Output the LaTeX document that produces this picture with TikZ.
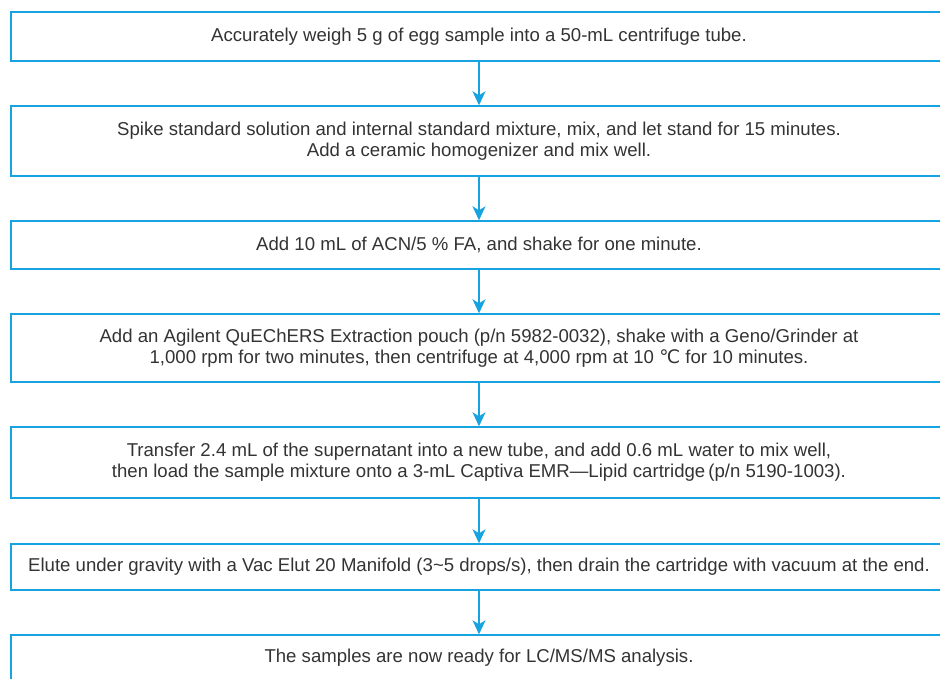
\documentclass[tikz,border=0pt]{standalone}
\usepackage{fontspec}
\setmainfont{Liberation Sans}
\newfontfamily\symfont{DejaVu Sans}
\usetikzlibrary{arrows.meta}
\definecolor{flowblue}{RGB}{22,163,223}
\definecolor{flowtext}{RGB}{51,51,51}
\begin{document}
\begin{tikzpicture}[x=1pt,y=-1pt,
  stepbox/.style={draw=flowblue, line width=1.4pt, minimum width=936pt,
    inner sep=0pt, text=flowtext, align=center,
    font=\fontsize{18.6}{21}\selectfont},
  flowarrow/.style={draw=flowblue, line width=1.4pt,
    -{Stealth[length=14pt,width=13pt,inset=4pt]}}]
\useasboundingbox (0,0) rectangle (940,679);
\clip (0,0) rectangle (940,679);
\node[stepbox, minimum height=49pt] (s1) at (479,36.5)
  {Accurately weigh 5 g of egg sample into a 50-mL centrifuge tube.};
\node[stepbox, minimum height=70pt] (s2) at (479,141)
  {Spike standard solution and internal standard mixture, mix, and let stand for 15 minutes.\\
   Add a ceramic homogenizer and mix well.};
\node[stepbox, minimum height=48pt] (s3) at (479,245)
  {Add 10 mL of ACN/5 \% FA, and shake for one minute.};
\node[stepbox, minimum height=68pt] (s4) at (479,348)
  {Add an Agilent QuEChERS Extraction pouch (p/n 5982-0032), shake with a Geno/Grinder at\\
   1,000 rpm for two minutes, then centrifuge at 4,000 rpm at 10 {\symfont ℃} for 10 minutes.};
\node[stepbox, minimum height=71pt] (s5) at (479,462.5)
  {Transfer 2.4 mL of the supernatant into a new tube, and add 0.6 mL water to mix well,\\
   then load the sample mixture onto a 3-mL Captiva EMR—Lipid cartridge\,(p/n 5190-1003).};
\node[stepbox, minimum height=46pt] (s6) at (479,567)
  {Elute under gravity with a Vac Elut 20 Manifold (3\textasciitilde 5 drops/s), then drain the cartridge with vacuum at the end.};
\node[stepbox, minimum height=46pt] (s7) at (479,658)
  {The samples are now ready for LC/MS/MS analysis.};
\foreach \a/\b in {s1/s2,s2/s3,s3/s4,s4/s5,s5/s6,s6/s7}
  \draw[flowarrow] (\a.south) -- (\b.north);
\end{tikzpicture}
\end{document}
